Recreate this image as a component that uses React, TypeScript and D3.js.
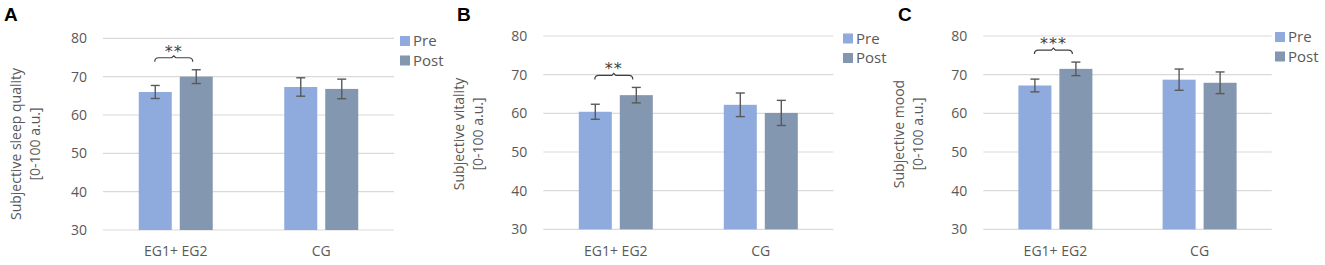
import React from "react";
import * as d3 from "d3";

const categories = ["EG1+ EG2", "CG"];
const seriesNames = ["Pre", "Post"];
const yTicks = [30, 40, 50, 60, 70, 80];

const sleepPre = [66.0, 67.3];
const sleepPost = [70.0, 66.8];
const sleepPreErr = [1.7, 2.4];
const sleepPostErr = [1.8, 2.55];

const vitalityPre = [60.4, 62.2];
const vitalityPost = [64.7, 60.1];
const vitalityPreErr = [1.95, 3.05];
const vitalityPostErr = [2.0, 3.25];

const moodPre = [67.2, 68.7];
const moodPost = [71.5, 67.9];
const moodPreErr = [1.65, 2.75];
const moodPostErr = [1.75, 2.8];

const panelLetters = ["A", "B", "C"];
const yTitles = [
  ["Subjective sleep quality", "[0-100 a.u.]"],
  ["Subjective vitality", "[0-100 a.u.]"],
  ["Subjective mood", "[0-100 a.u.]"],
];
const sigLabels = ["**", "**", "***"];

const colors = ["#8FAADC", "#8497B0"];
const textColor = "#595959";
const font = "'Open Sans', sans-serif";

type PanelCfg = {
  left: number;
  right: number;
  top: number;
  bottom: number;
  letterX: number;
  titleX: number;
  titleY: number;
  legendX: number;
  legendY: number;
  pre: number[];
  post: number[];
  preErr: number[];
  postErr: number[];
};

const panels: PanelCfg[] = [
  { left: 103, right: 394, top: 38.3, bottom: 230, letterX: 4, titleX: 21, titleY: 144, legendX: 400, legendY: 36,
    pre: sleepPre, post: sleepPost, preErr: sleepPreErr, postErr: sleepPostErr },
  { left: 543.3, right: 833.3, top: 36, bottom: 229.3, letterX: 457, titleX: 464, titleY: 134, legendX: 843, legendY: 33.5,
    pre: vitalityPre, post: vitalityPost, preErr: vitalityPreErr, postErr: vitalityPostErr },
  { left: 983.3, right: 1271.7, top: 36, bottom: 229.3, letterX: 898, titleX: 904, titleY: 134, legendX: 1275, legendY: 32,
    pre: moodPre, post: moodPost, preErr: moodPreErr, postErr: moodPostErr },
];

function Panel({ cfg, idx }: { cfg: PanelCfg; idx: number }) {
  const y = d3.scaleLinear().domain([30, 80]).range([cfg.bottom, cfg.top]);
  const x0 = d3.scaleBand<string>().domain(categories).range([cfg.left, cfg.right]).padding(0);
  const groupW = 74;
  const x1 = d3.scaleBand<string>().domain(seriesNames).range([0, groupW]).paddingInner(0.195).paddingOuter(0);
  const off = (x0.bandwidth() - groupW) / 2;
  const values = [cfg.pre, cfg.post];
  const errs = [cfg.preErr, cfg.postErr];
  const bw = x1.bandwidth();

  const barX = (ci: number, si: number) => (x0(categories[ci]) as number) + off + (x1(seriesNames[si]) as number);

  const preC = barX(0, 0) + bw / 2;
  const postC = barX(0, 1) + bw / 2;
  const topErr = Math.max(cfg.pre[0] + cfg.preErr[0], cfg.post[0] + cfg.postErr[0]);
  const by = y(topErr) - 12;
  const bx0 = preC - 0.5;
  const bx1 = postC - 3.5;
  const bm = (bx0 + bx1) / 2;
  const bracketPath = `M${bx0},${by + 4} Q${bx0},${by} ${bx0 + 4},${by} L${bm - 2},${by} L${bm},${by - 2} L${bm + 2},${by} L${bx1 - 4},${by} Q${bx1},${by} ${bx1},${by + 4}`;

  return (
    <g>
      <text x={cfg.letterX} y={21} fontFamily="'Liberation Sans', Arial, sans-serif" fontWeight="bold" fontSize={19} fill="#000">
        {panelLetters[idx]}
      </text>
      {yTicks.map((t) => (
        <g key={t}>
          <line x1={cfg.left} x2={cfg.right} y1={y(t)} y2={y(t)} stroke="#D9D9D9" strokeWidth={1.2} />
          <text x={cfg.left - 16} y={y(t)} dy="0.35em" textAnchor="end" fontFamily={font} fontSize={14} fill={textColor}>
            {t}
          </text>
        </g>
      ))}
      <text
        transform={`translate(${cfg.titleX},${cfg.titleY}) rotate(-90)`}
        textAnchor="middle"
        fontFamily={font}
        fontSize={14}
        fill={textColor}
      >
        <tspan x={0} y={0}>{yTitles[idx][0]}</tspan>
        <tspan x={0} y={19}>{yTitles[idx][1]}</tspan>
      </text>
      {categories.map((c, ci) =>
        seriesNames.map((s, si) => {
          const v = values[si][ci];
          const e = errs[si][ci];
          const bx = barX(ci, si);
          const cx = bx + bw / 2;
          return (
            <g key={c + s}>
              <rect x={bx} y={y(v)} width={bw} height={y(30) - y(v)} fill={colors[si]} />
              <line x1={cx} x2={cx} y1={y(v - e)} y2={y(v + e)} stroke="#595959" strokeWidth={1.4} />
              <line x1={cx - 4.5} x2={cx + 4.5} y1={y(v - e)} y2={y(v - e)} stroke="#595959" strokeWidth={1.4} />
              <line x1={cx - 4.5} x2={cx + 4.5} y1={y(v + e)} y2={y(v + e)} stroke="#595959" strokeWidth={1.4} />
            </g>
          );
        })
      )}
      {categories.map((c) => (
        <text
          key={c}
          x={(x0(c) as number) + x0.bandwidth() / 2}
          y={256}
          textAnchor="middle"
          fontFamily={font}
          fontSize={14}
          fill={textColor}
        >
          {c}
        </text>
      ))}
      <path d={bracketPath} fill="none" stroke="#404040" strokeWidth={1.2} />
      <text x={bm} y={by - 1} textAnchor="middle" fontFamily="'DejaVu Sans', sans-serif" fontSize={16} letterSpacing={1} fill="#404040">
        {sigLabels[idx]}
      </text>
      {seriesNames.map((s, si) => (
        <g key={s}>
          <rect x={cfg.legendX} y={cfg.legendY + si * 19.5} width={10} height={10} fill={colors[si]} />
          <text x={cfg.legendX + 13} y={cfg.legendY + si * 19.5 + 5} dy="0.35em" fontFamily={font} fontSize={15} fill={textColor}>
            {s}
          </text>
        </g>
      ))}
    </g>
  );
}

export default function App() {
  return (
    <svg
      width={1325}
      height={265}
      style={{ position: "absolute", left: 0, top: 0, background: "#fff" }}
    >
      <rect width={1325} height={265} fill="#fff" />
      {panels.map((p, i) => (
        <Panel key={i} cfg={p} idx={i} />
      ))}
    </svg>
  );
}
